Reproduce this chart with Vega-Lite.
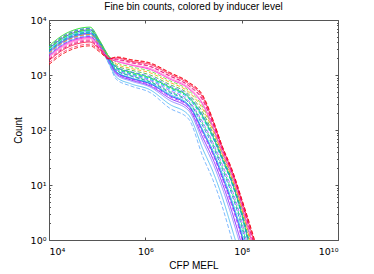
{
 "$schema": "https://vega.github.io/schema/vega-lite/v6.json",
 "width": 289, "height": 220,
 "autosize": {"type": "none"},
 "padding": {"left": 49, "top": 20, "right": 36, "bottom": 34},
 "background": "white",
 "config": {
  "view": {"stroke": "#555", "strokeWidth": 1},
  "font": "Liberation Sans",
  "axis": {"domain": false, "grid": false, "tickColor": "#555", "labelFont": "DejaVu Sans", "labelFontSize": 9.5, "labelColor": "black", "titleFont": "Liberation Sans", "titleFontSize": 10, "titleFontWeight": "normal", "titleColor": "black"}
 },
 "title": {"text": "Fine bin counts, colored by inducer level", "fontSize": 10, "font": "Liberation Sans", "fontWeight": "normal", "offset": 3.5, "anchor": "middle", "color": "black"},
 "data": {"values": [
  {"s":1,"x":10000,"y":2399},{"s":1,"x":19953,"y":3802},{"s":1,"x":39811,"y":4898},{"s":1,"x":70795,"y":5248},{"s":1,"x":112202,"y":3467},{"s":1,"x":177828,"y":1549},{"s":1,"x":251189,"y":832},{"s":1,"x":501187,"y":631},{"s":1,"x":1258925,"y":479},{"s":1,"x":3162278,"y":251},{"s":1,"x":7943282,"y":158},{"s":1,"x":15848932,"y":31.6},{"s":1,"x":25118864,"y":12.6},{"s":1,"x":39810717,"y":3.98},{"s":1,"x":63095734,"y":1},{"s":1,"x":100000000,"y":0.25},
  {"s":2,"x":10000,"y":2291},{"s":2,"x":19953,"y":3631},{"s":2,"x":39811,"y":4677},{"s":2,"x":70795,"y":5012},{"s":2,"x":112202,"y":3311},{"s":2,"x":177828,"y":1585},{"s":2,"x":251189,"y":912},{"s":2,"x":501187,"y":692},{"s":2,"x":1258925,"y":537},{"s":2,"x":3162278,"y":295},{"s":2,"x":7943282,"y":186},{"s":2,"x":15848932,"y":43.7},{"s":2,"x":25118864,"y":17.8},{"s":2,"x":39810717,"y":5.89},{"s":2,"x":63095734,"y":1.58},{"s":2,"x":100000000,"y":0.41},
  {"s":3,"x":10000,"y":3020},{"s":3,"x":19953,"y":4786},{"s":3,"x":39811,"y":6166},{"s":3,"x":70795,"y":6607},{"s":3,"x":112202,"y":3981},{"s":3,"x":177828,"y":1862},{"s":3,"x":251189,"y":1122},{"s":3,"x":501187,"y":871},{"s":3,"x":1258925,"y":692},{"s":3,"x":3162278,"y":427},{"s":3,"x":7943282,"y":275},{"s":3,"x":15848932,"y":91.2},{"s":3,"x":25118864,"y":38.9},{"s":3,"x":39810717,"y":14.1},{"s":3,"x":63095734,"y":4.57},{"s":3,"x":100000000,"y":1.2},{"s":3,"x":158489319,"y":0.19},
  {"s":4,"x":10000,"y":2754},{"s":4,"x":19953,"y":4365},{"s":4,"x":39811,"y":5623},{"s":4,"x":70795,"y":6026},{"s":4,"x":112202,"y":3715},{"s":4,"x":177828,"y":1862},{"s":4,"x":251189,"y":1202},{"s":4,"x":501187,"y":955},{"s":4,"x":1258925,"y":741},{"s":4,"x":3162278,"y":479},{"s":4,"x":7943282,"y":316},{"s":4,"x":15848932,"y":115},{"s":4,"x":25118864,"y":51.3},{"s":4,"x":39810717,"y":19.1},{"s":4,"x":63095734,"y":6.61},{"s":4,"x":100000000,"y":1.74},{"s":4,"x":158489319,"y":0.29},
  {"s":5,"x":10000,"y":2630},{"s":5,"x":19953,"y":4169},{"s":5,"x":39811,"y":5370},{"s":5,"x":70795,"y":5754},{"s":5,"x":112202,"y":3631},{"s":5,"x":177828,"y":1738},{"s":5,"x":251189,"y":1047},{"s":5,"x":501187,"y":813},{"s":5,"x":1258925,"y":631},{"s":5,"x":3162278,"y":380},{"s":5,"x":7943282,"y":245},{"s":5,"x":15848932,"y":70.8},{"s":5,"x":25118864,"y":30.2},{"s":5,"x":39810717,"y":10.7},{"s":5,"x":63095734,"y":3.24},{"s":5,"x":100000000,"y":0.83},
  {"s":6,"x":10000,"y":2512},{"s":6,"x":19953,"y":3981},{"s":6,"x":39811,"y":5129},{"s":6,"x":70795,"y":5495},{"s":6,"x":112202,"y":3548},{"s":6,"x":177828,"y":1862},{"s":6,"x":251189,"y":1259},{"s":6,"x":501187,"y":1000},{"s":6,"x":1258925,"y":794},{"s":6,"x":3162278,"y":525},{"s":6,"x":7943282,"y":339},{"s":6,"x":15848932,"y":135},{"s":6,"x":25118864,"y":60.3},{"s":6,"x":39810717,"y":23.4},{"s":6,"x":63095734,"y":8.32},{"s":6,"x":100000000,"y":2.24},{"s":6,"x":158489319,"y":0.38},
  {"s":7,"x":10000,"y":2818},{"s":7,"x":19953,"y":4467},{"s":7,"x":39811,"y":5754},{"s":7,"x":70795,"y":6166},{"s":7,"x":112202,"y":3802},{"s":7,"x":177828,"y":1862},{"s":7,"x":251189,"y":1148},{"s":7,"x":501187,"y":891},{"s":7,"x":1258925,"y":708},{"s":7,"x":3162278,"y":447},{"s":7,"x":7943282,"y":288},{"s":7,"x":15848932,"y":97.7},{"s":7,"x":25118864,"y":42.7},{"s":7,"x":39810717,"y":15.8},{"s":7,"x":63095734,"y":5.13},{"s":7,"x":100000000,"y":1.38},{"s":7,"x":158489319,"y":0.22},
  {"s":8,"x":10000,"y":2600},{"s":8,"x":19953,"y":4100},{"s":8,"x":39811,"y":5300},{"s":8,"x":70795,"y":5700},{"s":8,"x":112202,"y":3631},{"s":8,"x":177828,"y":1905},{"s":8,"x":251189,"y":1318},{"s":8,"x":501187,"y":1047},{"s":8,"x":1258925,"y":832},{"s":8,"x":3162278,"y":562},{"s":8,"x":7943282,"y":372},{"s":8,"x":15848932,"y":158},{"s":8,"x":25118864,"y":72.4},{"s":8,"x":39810717,"y":28.2},{"s":8,"x":63095734,"y":10.5},{"s":8,"x":100000000,"y":2.82},{"s":8,"x":158489319,"y":0.5},
  {"s":9,"x":10000,"y":3388},{"s":9,"x":19953,"y":5370},{"s":9,"x":39811,"y":6918},{"s":9,"x":70795,"y":7413},{"s":9,"x":112202,"y":4266},{"s":9,"x":177828,"y":2089},{"s":9,"x":251189,"y":1380},{"s":9,"x":501187,"y":1122},{"s":9,"x":1258925,"y":891},{"s":9,"x":3162278,"y":603},{"s":9,"x":7943282,"y":398},{"s":9,"x":15848932,"y":174},{"s":9,"x":25118864,"y":77.6},{"s":9,"x":39810717,"y":30.2},{"s":9,"x":63095734,"y":11.2},{"s":9,"x":100000000,"y":3.02},{"s":9,"x":158489319,"y":0.56},
  {"s":10,"x":10000,"y":3162},{"s":10,"x":19953,"y":5012},{"s":10,"x":39811,"y":6457},{"s":10,"x":70795,"y":6918},{"s":10,"x":112202,"y":4074},{"s":10,"x":177828,"y":2089},{"s":10,"x":251189,"y":1479},{"s":10,"x":501187,"y":1230},{"s":10,"x":1258925,"y":1000},{"s":10,"x":3162278,"y":676},{"s":10,"x":7943282,"y":447},{"s":10,"x":15848932,"y":204},{"s":10,"x":25118864,"y":89.1},{"s":10,"x":39810717,"y":32.4},{"s":10,"x":63095734,"y":12.3},{"s":10,"x":100000000,"y":3.39},{"s":10,"x":158489319,"y":0.66},
  {"s":17,"x":10000,"y":2951},{"s":17,"x":19953,"y":4677},{"s":17,"x":39811,"y":6026},{"s":17,"x":70795,"y":6457},{"s":17,"x":112202,"y":3890},{"s":17,"x":177828,"y":1905},{"s":17,"x":251189,"y":1230},{"s":17,"x":501187,"y":977},{"s":17,"x":1258925,"y":759},{"s":17,"x":3162278,"y":501},{"s":17,"x":7943282,"y":324},{"s":17,"x":15848932,"y":126},{"s":17,"x":25118864,"y":56.2},{"s":17,"x":39810717,"y":20.9},{"s":17,"x":63095734,"y":7.41},{"s":17,"x":100000000,"y":1.95},{"s":17,"x":158489319,"y":0.33},
  {"s":18,"x":10000,"y":3236},{"s":18,"x":19953,"y":5129},{"s":18,"x":39811,"y":6607},{"s":18,"x":70795,"y":7079},{"s":18,"x":112202,"y":4074},{"s":18,"x":177828,"y":2089},{"s":18,"x":251189,"y":1413},{"s":18,"x":501187,"y":1148},{"s":18,"x":1258925,"y":933},{"s":18,"x":3162278,"y":631},{"s":18,"x":7943282,"y":417},{"s":18,"x":15848932,"y":182},{"s":18,"x":25118864,"y":81.3},{"s":18,"x":39810717,"y":30.9},{"s":18,"x":63095734,"y":11.5},{"s":18,"x":100000000,"y":3.16},{"s":18,"x":158489319,"y":0.59},
  {"s":19,"x":10000,"y":2291},{"s":19,"x":19953,"y":3631},{"s":19,"x":39811,"y":4677},{"s":19,"x":70795,"y":5012},{"s":19,"x":112202,"y":3311},{"s":19,"x":177828,"y":1698},{"s":19,"x":251189,"y":1096},{"s":19,"x":501187,"y":851},{"s":19,"x":1258925,"y":661},{"s":19,"x":3162278,"y":407},{"s":19,"x":7943282,"y":263},{"s":19,"x":15848932,"y":83.2},{"s":19,"x":25118864,"y":36.3},{"s":19,"x":39810717,"y":12.9},{"s":19,"x":63095734,"y":4.07},{"s":19,"x":100000000,"y":1.07},{"s":19,"x":158489319,"y":0.17},
  {"s":20,"x":10000,"y":2692},{"s":20,"x":19953,"y":4266},{"s":20,"x":39811,"y":5495},{"s":20,"x":70795,"y":5888},{"s":20,"x":112202,"y":3681},{"s":20,"x":177828,"y":1950},{"s":20,"x":251189,"y":1349},{"s":20,"x":501187,"y":1072},{"s":20,"x":1258925,"y":871},{"s":20,"x":3162278,"y":589},{"s":20,"x":7943282,"y":389},{"s":20,"x":15848932,"y":166},{"s":20,"x":25118864,"y":75.9},{"s":20,"x":39810717,"y":28.8},{"s":20,"x":63095734,"y":10.7},{"s":20,"x":100000000,"y":2.95},{"s":20,"x":158489319,"y":0.52},
  {"s":22,"x":10000,"y":2540},{"s":22,"x":19953,"y":4010},{"s":22,"x":39811,"y":5160},{"s":22,"x":70795,"y":5530},{"s":22,"x":112202,"y":3570},{"s":22,"x":177828,"y":1698},{"s":22,"x":251189,"y":1000},{"s":22,"x":501187,"y":776},{"s":22,"x":1258925,"y":603},{"s":22,"x":3162278,"y":347},{"s":22,"x":7943282,"y":224},{"s":22,"x":15848932,"y":60.3},{"s":22,"x":25118864,"y":25.1},{"s":22,"x":39810717,"y":8.71},{"s":22,"x":63095734,"y":2.57},{"s":22,"x":100000000,"y":0.66},
  {"s":23,"x":10000,"y":3050},{"s":23,"x":19953,"y":4830},{"s":23,"x":39811,"y":6220},{"s":23,"x":70795,"y":6650},{"s":23,"x":112202,"y":3981},{"s":23,"x":177828,"y":2188},{"s":23,"x":251189,"y":1698},{"s":23,"x":501187,"y":1413},{"s":23,"x":1258925,"y":1175},{"s":23,"x":3162278,"y":794},{"s":23,"x":7943282,"y":525},{"s":23,"x":15848932,"y":257},{"s":23,"x":25118864,"y":107},{"s":23,"x":39810717,"y":38.0},{"s":23,"x":63095734,"y":14.1},{"s":23,"x":100000000,"y":3.98},{"s":23,"x":158489319,"y":0.89},
  {"s":11,"x":10000,"y":2188},{"s":11,"x":19953,"y":3467},{"s":11,"x":39811,"y":4467},{"s":11,"x":70795,"y":4786},{"s":11,"x":112202,"y":3236},{"s":11,"x":177828,"y":1995},{"s":11,"x":251189,"y":1778},{"s":11,"x":501187,"y":1514},{"s":11,"x":1258925,"y":1259},{"s":11,"x":3162278,"y":851},{"s":11,"x":7943282,"y":562},{"s":11,"x":15848932,"y":282},{"s":11,"x":25118864,"y":115},{"s":11,"x":39810717,"y":39.8},{"s":11,"x":63095734,"y":15.1},{"s":11,"x":100000000,"y":4.27},{"s":11,"x":158489319,"y":1.0},{"s":11,"x":251188643,"y":0.23},
  {"s":12,"x":10000,"y":1995},{"s":12,"x":19953,"y":3162},{"s":12,"x":39811,"y":4074},{"s":12,"x":70795,"y":4365},{"s":12,"x":112202,"y":3090},{"s":12,"x":177828,"y":1995},{"s":12,"x":251189,"y":1905},{"s":12,"x":501187,"y":1660},{"s":12,"x":1258925,"y":1413},{"s":12,"x":3162278,"y":955},{"s":12,"x":7943282,"y":631},{"s":12,"x":15848932,"y":331},{"s":12,"x":25118864,"y":132},{"s":12,"x":39810717,"y":43.7},{"s":12,"x":63095734,"y":16.6},{"s":12,"x":100000000,"y":4.79},{"s":12,"x":158489319,"y":1.2},{"s":12,"x":251188643,"y":0.28},
  {"s":24,"x":10000,"y":2089},{"s":24,"x":19953,"y":3311},{"s":24,"x":39811,"y":4266},{"s":24,"x":70795,"y":4571},{"s":24,"x":112202,"y":3162},{"s":24,"x":177828,"y":1995},{"s":24,"x":251189,"y":1820},{"s":24,"x":501187,"y":1549},{"s":24,"x":1258925,"y":1318},{"s":24,"x":3162278,"y":891},{"s":24,"x":7943282,"y":589},{"s":24,"x":15848932,"y":295},{"s":24,"x":25118864,"y":120},{"s":24,"x":39810717,"y":40.7},{"s":24,"x":63095734,"y":15.5},{"s":24,"x":100000000,"y":4.47},{"s":24,"x":158489319,"y":1.07},{"s":24,"x":251188643,"y":0.25},
  {"s":16,"x":10000,"y":2480},{"s":16,"x":19953,"y":3950},{"s":16,"x":39811,"y":5080},{"s":16,"x":70795,"y":5450},{"s":16,"x":112202,"y":3548},{"s":16,"x":177828,"y":2042},{"s":16,"x":251189,"y":1585},{"s":16,"x":501187,"y":1318},{"s":16,"x":1258925,"y":1096},{"s":16,"x":3162278,"y":741},{"s":16,"x":7943282,"y":490},{"s":16,"x":15848932,"y":234},{"s":16,"x":25118864,"y":100},{"s":16,"x":39810717,"y":35.5},{"s":16,"x":63095734,"y":13.2},{"s":16,"x":100000000,"y":3.72},{"s":16,"x":158489319,"y":0.79},
  {"s":13,"x":10000,"y":1820},{"s":13,"x":19953,"y":2884},{"s":13,"x":39811,"y":3715},{"s":13,"x":70795,"y":3981},{"s":13,"x":112202,"y":2884},{"s":13,"x":177828,"y":1995},{"s":13,"x":251189,"y":2042},{"s":13,"x":501187,"y":1778},{"s":13,"x":1258925,"y":1549},{"s":13,"x":3162278,"y":1047},{"s":13,"x":7943282,"y":692},{"s":13,"x":15848932,"y":380},{"s":13,"x":25118864,"y":148},{"s":13,"x":39810717,"y":47.9},{"s":13,"x":63095734,"y":17.8},{"s":13,"x":100000000,"y":5.25},{"s":13,"x":158489319,"y":1.41},{"s":13,"x":251188643,"y":0.35},
  {"s":21,"x":10000,"y":1660},{"s":21,"x":19953,"y":2630},{"s":21,"x":39811,"y":3388},{"s":21,"x":70795,"y":3631},{"s":21,"x":112202,"y":2754},{"s":21,"x":177828,"y":1995},{"s":21,"x":251189,"y":2089},{"s":21,"x":501187,"y":1862},{"s":21,"x":1258925,"y":1622},{"s":21,"x":3162278,"y":1096},{"s":21,"x":7943282,"y":724},{"s":21,"x":15848932,"y":398},{"s":21,"x":25118864,"y":151},{"s":21,"x":39810717,"y":49.0},{"s":21,"x":63095734,"y":18.6},{"s":21,"x":100000000,"y":5.5},{"s":21,"x":158489319,"y":1.51},{"s":21,"x":251188643,"y":0.37},
  {"s":14,"x":10000,"y":1549},{"s":14,"x":19953,"y":2455},{"s":14,"x":39811,"y":3162},{"s":14,"x":70795,"y":3388},{"s":14,"x":112202,"y":2630},{"s":14,"x":177828,"y":1950},{"s":14,"x":251189,"y":2138},{"s":14,"x":501187,"y":1905},{"s":14,"x":1258925,"y":1660},{"s":14,"x":3162278,"y":1122},{"s":14,"x":7943282,"y":741},{"s":14,"x":15848932,"y":417},{"s":14,"x":25118864,"y":158},{"s":14,"x":39810717,"y":50.1},{"s":14,"x":63095734,"y":19.1},{"s":14,"x":100000000,"y":5.62},{"s":14,"x":158489319,"y":1.58},{"s":14,"x":251188643,"y":0.4},
  {"s":15,"x":10000,"y":1905},{"s":15,"x":19953,"y":3020},{"s":15,"x":39811,"y":3890},{"s":15,"x":70795,"y":4169},{"s":15,"x":112202,"y":3020},{"s":15,"x":177828,"y":1995},{"s":15,"x":251189,"y":1950},{"s":15,"x":501187,"y":1698},{"s":15,"x":1258925,"y":1445},{"s":15,"x":3162278,"y":977},{"s":15,"x":7943282,"y":646},{"s":15,"x":15848932,"y":347},{"s":15,"x":25118864,"y":135},{"s":15,"x":39810717,"y":44.7},{"s":15,"x":63095734,"y":17.0},{"s":15,"x":100000000,"y":4.9},{"s":15,"x":158489319,"y":1.26},{"s":15,"x":251188643,"y":0.3}
 ]},
 "layer": [
  {
   "mark": {"type": "line", "clip": true, "strokeWidth": 0.9, "strokeOpacity": 0.9, "interpolate": "monotone"},
   "encoding": {
    "x": {"field": "x", "type": "quantitative",
      "scale": {"type": "log", "domain": [10000, 10000000000], "nice": false},
      "axis": {"orient": "bottom", "title": "CFP MEFL", "values": [10000, 1000000, 100000000, 10000000000],
        "labelExpr": "'10' + ['⁰','¹','²','³','⁴','⁵','⁶','⁷','⁸','⁹','¹⁰'][round(log(datum.value)/LN10)]",
        "tickSize": -3, "labelPadding": 9, "titlePadding": 5}},
    "y": {"field": "y", "type": "quantitative",
      "scale": {"type": "log", "domain": [1, 10000], "nice": false},
      "axis": {"orient": "left", "title": "Count",
        "values": [1,2,3,4,5,6,7,8,9,10,20,30,40,50,60,70,80,90,100,200,300,400,500,600,700,800,900,1000,2000,3000,4000,5000,6000,7000,8000,9000,10000],
        "labelExpr": "abs(log(datum.value)/LN10 - round(log(datum.value)/LN10)) < 0.001 ? '10' + ['⁰','¹','²','³','⁴','⁵','⁶','⁷','⁸','⁹'][round(log(datum.value)/LN10)] : ''",
        "tickSize": {"condition": {"test": "abs(log(datum.value)/LN10 - round(log(datum.value)/LN10)) < 0.001", "value": -3}, "value": -1.5},
        "labelPadding": 6, "titlePadding": 7}},
    "color": {"field": "s", "type": "nominal", "legend": null,
      "scale": {"domain": [1,2,3,4,5,6,7,8,9,10,11,12,13,14,15,16,17,18,19,20,21,22,23,24],
        "range": ["#5fa8ff","#3fb6ee","#0000ff","#2a4bff","#7a00ff","#a64dff","#00c4d4","#0099ff","#00dd00","#2fb52f","#ff00cc","#ff3fa0","#ff0033","#f00000","#e0006e","#ff9900","#00ee66","#3366ff","#b020ff","#00d0a0","#ff2060","#8080ff","#66dd33","#ff66cc"]}},
    "strokeDash": {"field": "s", "type": "nominal", "legend": null,
      "scale": {"domain": [1,2,3,4,5,6,7,8,9,10,11,12,13,14,15,16,17,18,19,20,21,22,23,24],
        "range": [[4,2],[1,0],[1,0],[4,2],[1,0],[4,2],[1,0],[4,2],[1,0],[4,2],[1,0],[4,2],[1,0],[4,2],[4,2],[4,2],[4,2],[4,2],[4,2],[4,2],[4,2],[1,0],[4,2],[1,0]]}}
   }
  },
  {
   "mark": {"type": "point", "opacity": 0},
   "encoding": {
    "x": {"field": "x", "type": "quantitative",
      "axis": {"orient": "top", "title": null, "labels": false, "values": [10000, 1000000, 100000000, 10000000000], "tickSize": -3}},
    "y": {"field": "y", "type": "quantitative",
      "axis": {"orient": "right", "title": null, "labels": false,
        "values": [1,2,3,4,5,6,7,8,9,10,20,30,40,50,60,70,80,90,100,200,300,400,500,600,700,800,900,1000,2000,3000,4000,5000,6000,7000,8000,9000,10000],
        "tickSize": {"condition": {"test": "abs(log(datum.value)/LN10 - round(log(datum.value)/LN10)) < 0.001", "value": -3}, "value": -1.5}}}
   }
  }
 ],
 "resolve": {"axis": {"x": "independent", "y": "independent"}}
}
